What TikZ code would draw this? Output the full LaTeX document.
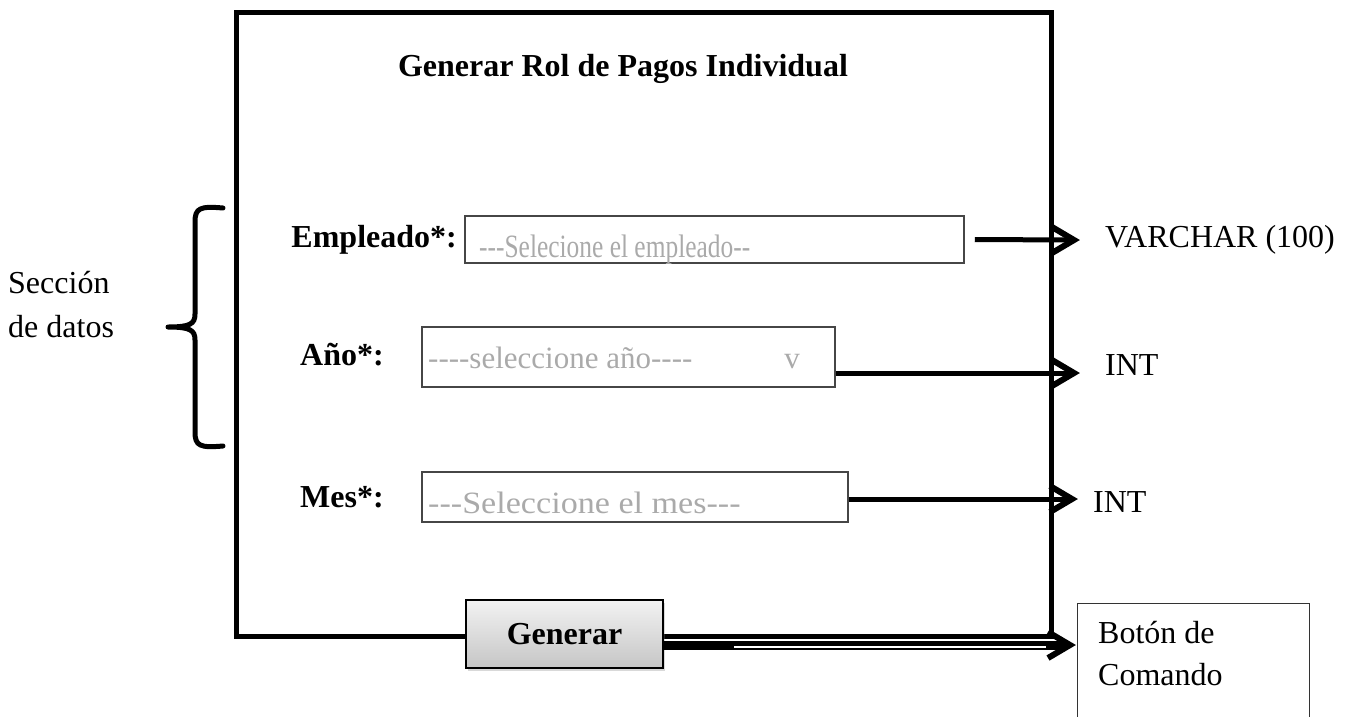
\documentclass[tikz,border=0pt]{standalone}
\usepackage{fontspec}
\setmainfont{Liberation Serif}
\usetikzlibrary{arrows.meta,shadows}
\definecolor{hint}{RGB}{170,170,170}
\definecolor{fieldedge}{RGB}{70,70,70}
\begin{document}
\begin{tikzpicture}[x=1pt,y=-1pt,
  bold32/.style={font=\fontsize{32}{38}\selectfont\bfseries, inner sep=0pt},
  reg32/.style={font=\fontsize{32}{42}\selectfont, inner sep=0pt},
  fieldbox/.style={draw=fieldedge, line width=1.5pt, inner sep=0pt},
  hinttext/.style={font=\fontsize{31}{36}\selectfont, text=hint, inner sep=0pt, anchor=base west},
  shaft/.style={line width=5pt},
  barb/.style={line width=6pt, line join=miter, line cap=butt},
  thick5/.style={line width=5pt, line cap=round, line join=round}
]
\useasboundingbox (0,0) rectangle (1352,716);

% main frame
\draw[line width=5pt] (236,12) rectangle (1051,636);

% title
\node[bold32] (title) at (623,69) {Generar Rol de Pagos Individual};

% fields
\node[fieldbox, minimum width=499pt, minimum height=47pt] (f1) at (714.5,239.5) {};
\node[fieldbox, minimum width=413pt, minimum height=60pt] (f2) at (628.5,357) {};
\node[fieldbox, minimum width=426pt, minimum height=50pt] (f3) at (635,497) {};

\node[hinttext] (h1) at (479,257) {\scalebox{0.82}[1.05]{-{}-{}-Selecione el empleado-{}-}};
\node[hinttext] (h2) at (428,368) {-{}-{}-{}-seleccione año-{}-{}-{}-\hspace{92pt}v};
\node[hinttext] (h3) at (428,513) {\scalebox{1.1}[1]{-{}-{}-Seleccione el mes-{}-{}-}};

% labels
\node[bold32, anchor=east] (l1) at (457,240) {Empleado*:};
\node[bold32, anchor=west] (l2) at (300,355) {Año*:};
\node[bold32, anchor=west] (l3) at (300,497) {Mes*:};

% button
\node[draw=black, line width=2pt, minimum width=197pt, minimum height=68pt,
      top color=gray!10, bottom color=gray!45, bold32,
      drop shadow={opacity=0.3, shadow xshift=2pt, shadow yshift=-3pt}] (btn) at (564.5,634) {Generar};

% targets
\node[reg32, anchor=west] (vc) at (1105,240) {VARCHAR (100)};
\node[reg32, anchor=west] (int1) at (1105,365) {INT};
\node[reg32, anchor=west] (int2) at (1093,502) {INT};
\node[reg32, anchor=north west, align=left] (cmd) at (1098,621) {Botón de\\Comando};
\draw[line width=1pt, draw=black!80] (1077,720) -- (1077,603) -- (1309,603) -- (1309,720);

% section brace
\node[reg32, anchor=west, align=left, font=\fontsize{32}{44}\selectfont] (sec) at (8,305) {Sección\\de datos};
\coordinate (bt) at (223,208);
\coordinate (bm) at (168,327);
\coordinate (bb) at (223,446);
\draw[thick5] (bt) .. controls (200,206) and (195,208) .. (195,222) -- (195,314)
  .. controls (195,324) and (190,327) .. (bm)
  .. controls (190,327) and (195,330) .. (195,340) -- (195,432)
  .. controls (195,446) and (200,448) .. (bb);

% arrows
\coordinate (e1) at (1074,240);
\coordinate (e2) at (1074,373);
\coordinate (e3) at (1072,499);
\coordinate (e4) at (1070,645);
\draw[shaft] ([xshift=10pt]f1.east) -- (e1);
\draw[barb] ([shift={(-22,-13)}]e1) -- (e1) -- ([shift={(-22,13)}]e1);
\draw[shaft] (f2.east |- e2) -- (e2);
\draw[barb] ([shift={(-22,-13)}]e2) -- (e2) -- ([shift={(-22,13)}]e2);
\draw[shaft] (f3.east |- e3) -- (e3);
\draw[barb] ([shift={(-22,-13)}]e3) -- (e3) -- ([shift={(-22,13)}]e3);
\draw[line width=9pt, shorten >=4pt] (btn.east |- e4) -- (e4);
\draw[white, line width=1.3pt, shorten >=24pt] ([yshift=-2pt]btn.east |- e4) ++(70,0) -- ([yshift=-2pt]e4);
\draw[barb] ([shift={(-22,-13)}]e4) -- (e4) -- ([shift={(-22,13)}]e4);
\end{tikzpicture}
\end{document}
